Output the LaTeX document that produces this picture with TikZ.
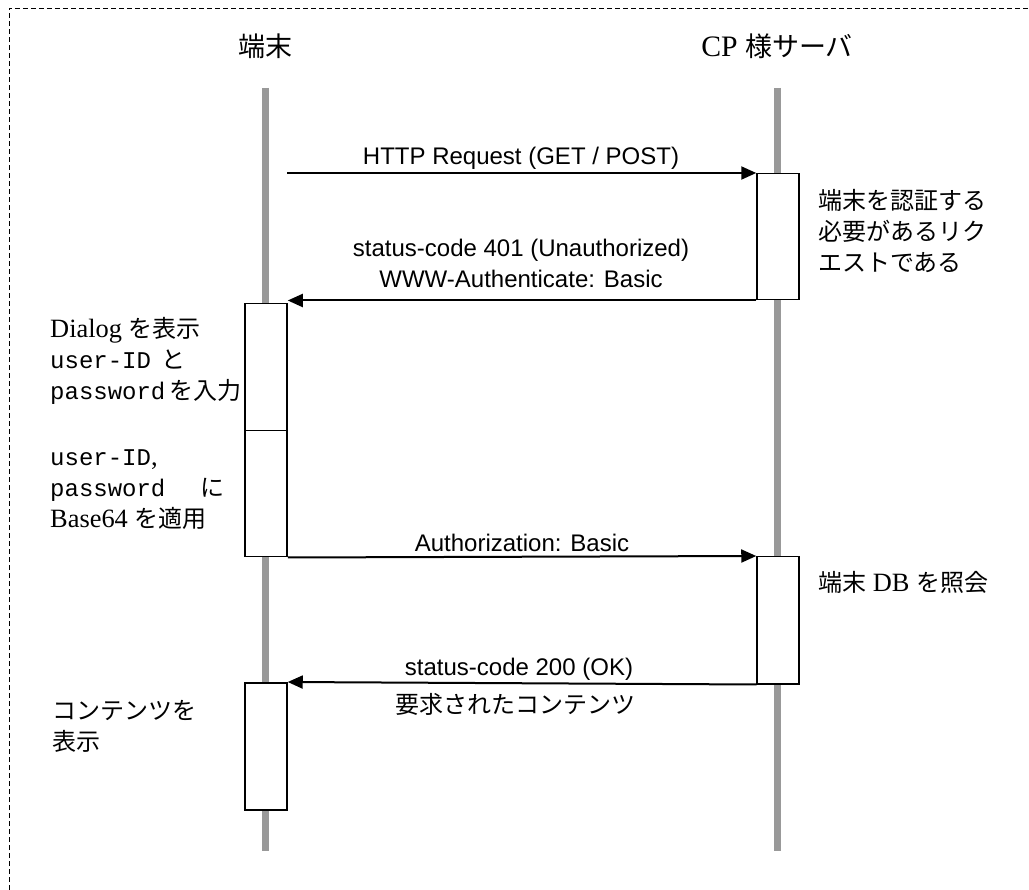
\documentclass[tikz,border=0pt]{standalone}
\usepackage{fontspec}
\setmainfont{Liberation Serif}[Scale=1.1]
\setsansfont{Liberation Sans}
\setmonofont{Liberation Mono}
\newfontfamily\jp{Noto Sans CJK JP}
\usetikzlibrary{arrows.meta,calc}
\definecolor{lifegray}{RGB}{153,153,153}
\begin{document}
\begin{tikzpicture}[x=1pt,y=-1pt,
  lifeline/.style={draw=lifegray, line width=7pt},
  act/.style={draw, line width=1.5pt, fill=white, minimum width=42pt, inner sep=0pt, anchor=north},
  msg/.style={line width=2pt, -{Triangle[length=15pt,width=13pt]}},
  lbl/.style={font=\sffamily\fontsize{24}{31}\selectfont, inner sep=0pt, align=center},
  note/.style={font=\fontsize{24}{31}\selectfont, align=left, anchor=west, inner sep=0pt},
  head/.style={font=\fontsize{27}{30}\selectfont, inner sep=0pt},
  frame/.style={draw, line width=0.8pt, dash pattern=on 5pt off 3pt}]
\useasboundingbox (0,0) rectangle (1029,890);
\path[frame] (9,890) -- (9,8) -- (1029,8);
% headers
\node[head] (hc) at (265,46) {\jp 端末};
\node[head] (hs) at (777,46) {CP {\jp 様サーバ}};
% lifelines
\coordinate (ctop) at (265,88);
\coordinate (cbot) at (265,851);
\coordinate (stop) at (777,88);
\coordinate (sbot) at (777,851);
\draw[lifeline] (ctop) -- (cbot);
\draw[lifeline] (stop) -- (sbot);
% activation boxes
\node[act, minimum height=126pt] (s1) at (778,173) {};
\node[act, minimum height=127pt] (c1) at (266,303) {};
\node[act, minimum height=126pt] (c2) at (266,430) {};
\node[act, minimum height=127pt] (s2) at (778,556) {};
\node[act, minimum height=127pt] (c3) at (266,682) {};
% messages
\coordinate (m1start) at (287,173);
\draw[msg] (m1start) -- (s1.north west);
\draw[msg] (s1.south west) -- (s1.south west -| c1.east);
\draw[msg] (c2.south east) -- (s2.north west);
\draw[msg] (s2.south west) -- (c3.north east);
% message labels
\node[lbl] (l1) at (521,158) {HTTP Request (GET / POST)};
\node[lbl] (l2) at (521,263) {status-code 401 (Unauthorized)\\WWW-Authenticate: Basic};
\node[lbl] (l3) at (522,543) {Authorization: Basic};
\node[lbl] (l4) at (519,669) {status-code 200 (OK)};
\node[lbl, font=\jp\fontsize{24}{31}\selectfont] (l5) at (515,704) {要求されたコンテンツ};
% notes
\node[note] (n1) at (818,231) {\jp 端末を認証する\\\jp 必要があるリク\\\jp エストである};
\node[note] (n2) at (818,582) {{\jp 端末} DB {\jp を照会}};
\node[note] (n3) at (50,361) {Dialog {\jp を表示}\\\texttt{user-ID}\hspace{10pt}{\jp と}\\\texttt{password}\hspace{4pt}{\jp を入力}};
\node[note] (n4) at (50,490) {\texttt{user-ID},\\\texttt{password}\hspace{35pt}{\jp に}\\Base64 {\jp を適用}};
\node[note] (n5) at (52,726) {\jp コンテンツを\\\jp 表示};
\end{tikzpicture}
\end{document}
